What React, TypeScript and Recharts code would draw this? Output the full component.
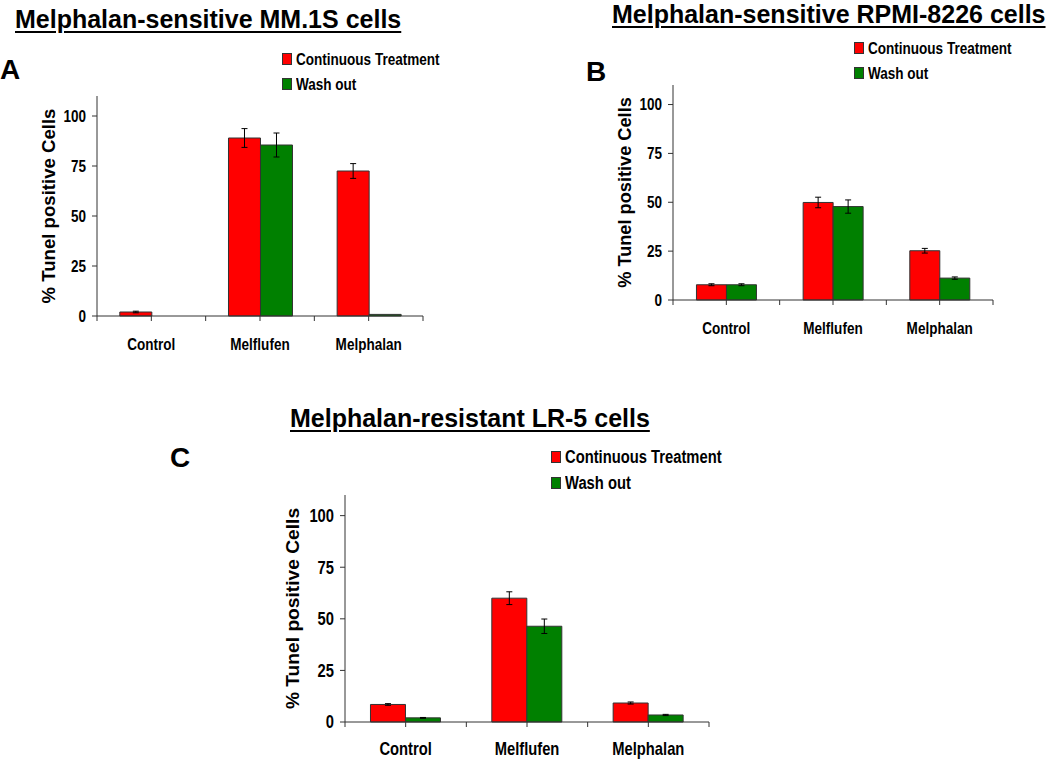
import React from "react";
import { BarChart, Bar, XAxis, YAxis, ErrorBar, Legend, ReferenceLine } from "recharts";

const categories = ["Control", "Melflufen", "Melphalan"];
const yTicks = [0, 25, 50, 75, 100];

// A: MM.1S
const mm1sContinuous = [2, 89, 72.5];
const mm1sContinuousErr = [0.4, 4.7, 3.7];
const mm1sWashout = [0, 85.5, 0.8];
const mm1sWashoutErr = [0, 6, 0];

// B: RPMI-8226
const rpmiContinuous = [7.8, 49.9, 25.2];
const rpmiContinuousErr = [0.5, 2.7, 1.2];
const rpmiWashout = [7.8, 47.8, 11.2];
const rpmiWashoutErr = [0.5, 3.4, 0.6];

// C: LR-5
const lr5Continuous = [8.5, 60, 9.2];
const lr5ContinuousErr = [0.4, 3.1, 0.5];
const lr5Washout = [2, 46.4, 3.4];
const lr5WashoutErr = [0.2, 3.5, 0.3];

const ARIAL = "'Liberation Sans', Arial, sans-serif";
const AXIS = "#333";
const SQUEEZE = 0.82; // no Arial Narrow here, so squeeze Arial bold

const buildRows = (cont: number[], contErr: number[], wash: number[], washErr: number[]) =>
  categories.map((name, i) => ({
    name,
    continuous: cont[i],
    continuousErr: contErr[i],
    washout: wash[i],
    washoutErr: washErr[i],
  }));

type PanelCfg = {
  axisX: number;
  top: number;
  bottom: number;
  right: number;
  labelX: number;
  font: number;
  yFont: number;
  legendX: number;
  legendY: number;
  legendRow: number;
  gap: string;
  xH: number;
  xMargin: number;
};

const NarrowTick = (props: any) => {
  const { x, y, payload, anchor, dy, size } = props;
  return (
    <g transform={`translate(${x},${y}) scale(${SQUEEZE},1)`}>
      <text
        x={0}
        y={0}
        dy={dy}
        textAnchor={anchor}
        fontFamily={ARIAL}
        fontWeight="bold"
        fontSize={size}
        fill="#000"
      >
        {payload.value}
      </text>
    </g>
  );
};

function Panel({ cfg, rows }: { cfg: PanelCfg; rows: any[] }) {
  const mTop = 10;
  const yW = 2 * (cfg.axisX - cfg.labelX);
  const left = cfg.labelX - (cfg.axisX - cfg.labelX);
  const plotH = cfg.bottom - cfg.top;
  const width = yW + (cfg.right - cfg.axisX) + 5;
  const height = mTop + plotH + cfg.xH;
  const tickUnits = 5 / (plotH / 110);

  const renderLegend = (props: any) => (
    <div style={{ fontFamily: ARIAL, fontWeight: "bold", fontSize: cfg.font, color: "#000" }}>
      {(props.payload || []).map((entry: any) => (
        <div
          key={entry.value}
          style={{ display: "flex", alignItems: "center", height: cfg.legendRow, whiteSpace: "nowrap" }}
        >
          <span
            style={{
              display: "inline-block",
              width: 8,
              height: 10,
              background: entry.color,
              border: "1px solid #333",
              marginRight: 4,
            }}
          />
          <span style={{ display: "inline-block", transform: `scaleX(${SQUEEZE})`, transformOrigin: "left center" }}>
            {entry.value}
          </span>
        </div>
      ))}
    </div>
  );

  const bounds = [
    ...categories.map((c) => ({ c, pos: "start" as const })),
    { c: categories[categories.length - 1], pos: "end" as const },
  ];

  return (
    <div style={{ position: "absolute", left, top: cfg.top - mTop }}>
      <BarChart
        width={width}
        height={height}
        data={rows}
        margin={{ top: mTop, right: 5, left: 0, bottom: 0 }}
        barGap={0}
        barCategoryGap={cfg.gap}
      >
        <XAxis
          dataKey="name"
          height={cfg.xH}
          tickSize={5}
          tickMargin={cfg.xMargin}
          tick={(p: any) => <NarrowTick {...p} anchor="middle" dy="0.71em" size={cfg.font} />}
          stroke={AXIS}
          tickLine={{ stroke: AXIS }}
        />
        <YAxis
          width={yW}
          domain={[0, 110]}
          ticks={yTicks}
          tickSize={5}
          tickMargin={6}
          tick={(p: any) => <NarrowTick {...p} anchor="end" dy="0.355em" size={cfg.font} />}
          stroke={AXIS}
          interval={0}
          label={{
            value: "% Tunel positive Cells",
            angle: -90,
            position: "center",
            style: { fontFamily: ARIAL, fontWeight: "bold", fontSize: cfg.yFont, fill: "#000" },
          }}
        />
        {bounds.map((b, i) => (
          <ReferenceLine
            key={i}
            segment={[
              { x: b.c, y: 0 },
              { x: b.c, y: -tickUnits },
            ]}
            position={b.pos}
            ifOverflow="visible"
            stroke={AXIS}
            strokeWidth={1}
          />
        ))}
        <Legend
          layout="vertical"
          align="center"
          verticalAlign="middle"
          content={renderLegend}
          wrapperStyle={{
            left: cfg.legendX - left,
            top: cfg.legendY - cfg.legendRow / 2 - (cfg.top - mTop),
            width: "auto",
          }}
        />
        <Bar dataKey="continuous" name="Continuous Treatment" fill="#FF0000" stroke="#333" strokeWidth={1} isAnimationActive={false}>
          <ErrorBar dataKey="continuousErr" width={3} stroke="#000" strokeWidth={1} direction="y" />
        </Bar>
        <Bar dataKey="washout" name="Wash out" fill="#008000" stroke="#333" strokeWidth={1} isAnimationActive={false}>
          <ErrorBar dataKey="washoutErr" width={3} stroke="#000" strokeWidth={1} direction="y" />
        </Bar>
      </BarChart>
    </div>
  );
}

const titleStyle: React.CSSProperties = {
  position: "absolute",
  fontFamily: ARIAL,
  fontWeight: "bold",
  fontSize: 25,
  lineHeight: "25px",
  color: "#000",
  textDecoration: "underline",
  textDecorationThickness: "2px",
  textUnderlineOffset: "3px",
  whiteSpace: "nowrap",
};

const letterStyle: React.CSSProperties = {
  position: "absolute",
  fontFamily: ARIAL,
  fontWeight: "bold",
  fontSize: 28,
  lineHeight: "28px",
  color: "#000",
};

const cfgA: PanelCfg = {
  axisX: 97, top: 96, bottom: 316, right: 423, labelX: 48, font: 16.5, yFont: 18.6,
  legendX: 282, legendY: 59, legendRow: 25, gap: "21%", xH: 45, xMargin: 17,
};
const cfgB: PanelCfg = {
  axisX: 673, top: 85, bottom: 300, right: 993, labelX: 625, font: 16.5, yFont: 18.2,
  legendX: 854, legendY: 48, legendRow: 25, gap: "22%", xH: 45, xMargin: 17,
};
const cfgC: PanelCfg = {
  axisX: 345, top: 495, bottom: 722, right: 709, labelX: 292, font: 18, yFont: 19.2,
  legendX: 551, legendY: 457, legendRow: 26, gap: "21%", xH: 38, xMargin: 15,
};

export default function App() {
  return (
    <div style={{ position: "absolute", left: 0, top: 0, width: 1050, height: 760, background: "#fff", overflow: "hidden" }}>
      <div style={{ ...titleStyle, left: 15, top: 7 }}>Melphalan-sensitive MM.1S cells</div>
      <div style={{ ...titleStyle, left: 612, top: 4, lineHeight: "20px" }}>Melphalan-sensitive RPMI-8226 cells</div>
      <div style={{ ...titleStyle, left: 290, top: 406 }}>Melphalan-resistant LR-5 cells</div>
      <div style={{ ...letterStyle, left: 0, top: 56 }}>A</div>
      <div style={{ ...letterStyle, left: 586, top: 58 }}>B</div>
      <div style={{ ...letterStyle, left: 170, top: 444 }}>C</div>
      <Panel cfg={cfgA} rows={buildRows(mm1sContinuous, mm1sContinuousErr, mm1sWashout, mm1sWashoutErr)} />
      <Panel cfg={cfgB} rows={buildRows(rpmiContinuous, rpmiContinuousErr, rpmiWashout, rpmiWashoutErr)} />
      <Panel cfg={cfgC} rows={buildRows(lr5Continuous, lr5ContinuousErr, lr5Washout, lr5WashoutErr)} />
    </div>
  );
}
